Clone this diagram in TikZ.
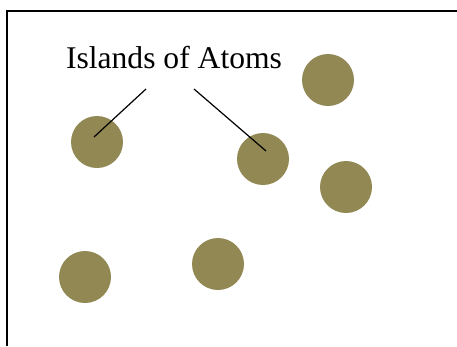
\documentclass[tikz,border=0pt]{standalone}
\usepackage{fontspec}
\setmainfont{Liberation Serif}
\definecolor{atom}{RGB}{145,136,84}
\begin{document}
\begin{tikzpicture}[x=1pt,y=-1pt,
  atomdot/.style={circle,fill=atom,minimum size=52pt,inner sep=0pt},
  pointer/.style={draw=black,line width=1.2pt},
  frame/.style={draw=black,line width=2pt}]
\useasboundingbox (0,0) rectangle (457,346);
\draw[frame] (7,346) -- (7,11) -- (457,11);
\node[atomdot] (a1) at (97,142) {};
\node[atomdot] (a2) at (263,159) {};
\node[atomdot] (a3) at (328,80) {};
\node[atomdot] (a4) at (346,187) {};
\node[atomdot] (a5) at (85,277) {};
\node[atomdot] (a6) at (218,264) {};
\node[anchor=base,font=\fontsize{31.6}{36}\selectfont,inner sep=0pt] (t) at (174,68) {Islands of Atoms};
\coordinate (p1) at (146,89);
\coordinate (p2) at (194,89);
\coordinate (e1) at (94,137);
\coordinate (e2) at (266,151);
\draw[pointer] (p1) -- (e1);
\draw[pointer] (p2) -- (e2);
\end{tikzpicture}
\end{document}
